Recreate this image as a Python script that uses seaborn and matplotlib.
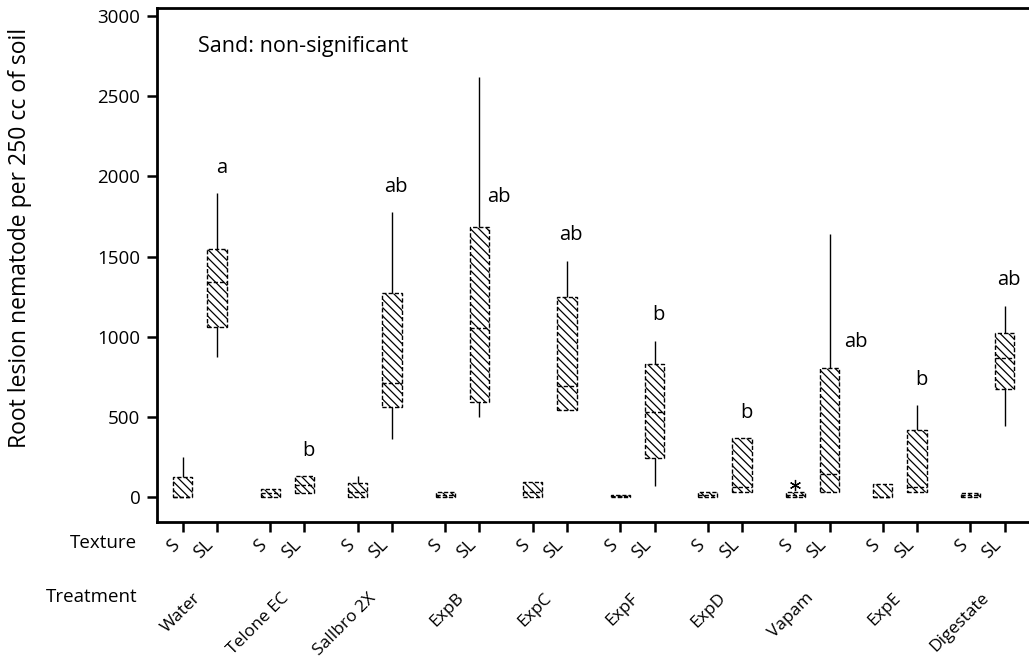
import numpy as np
import pandas as pd
import matplotlib
matplotlib.use("Agg")
import matplotlib.pyplot as plt
import seaborn as sns

# ---- data -------------------------------------------------------------
treatments = ["Water", "Telone EC", "Sallbro 2X", "ExpB", "ExpC",
              "ExpF", "ExpD", "Vapam", "ExpE", "Digestate"]
textures = ["S", "SL"]

# five-number summaries for sand (S)
s_min = [0, 0, 0, 0, 0, 0, 0, 0, 0, 0]
s_q1 = [0, 0, 0, 0, 0, 0, 0, 0, 0, 0]
s_med = [0, 25, 30, 15, 30, 5, 12, 12, 0, 12]
s_q3 = [125, 50, 87, 31, 94, 12, 31, 31, 81, 25]
s_max = [250, 50, 131, 31, 94, 12, 31, 31, 81, 25]

# five-number summaries for sandy loam (SL)
sl_min = [875, 25, 363, 500, 544, 69, 31, 31, 31, 444]
sl_q1 = [1063, 25, 563, 594, 544, 244, 31, 31, 31, 675]
sl_med = [1344, 75, 713, 1056, 694, 531, 62, 144, 62, 869]
sl_q3 = [1544, 131, 1275, 1681, 1250, 831, 369, 806, 419, 1025]
sl_max = [1894, 131, 1775, 2619, 1475, 975, 369, 1638, 575, 1194]

# outlier in sand under Vapam
vapam_s_outlier = [75]

# mean separation letters for sandy loam
sl_letters = ["a", "b", "ab", "ab", "ab", "b", "b", "ab", "b", "ab"]

yticks = [0, 500, 1000, 1500, 2000, 2500, 3000]

# ---- long table built from the summaries -------------------------------
rows = []
for i, trt in enumerate(treatments):
    for tex, stats in (("S", (s_min, s_q1, s_med, s_q3, s_max)),
                       ("SL", (sl_min, sl_q1, sl_med, sl_q3, sl_max))):
        for arr in stats:
            rows.append({"Treatment": trt, "Texture": tex, "Count": arr[i]})
df = pd.DataFrame(rows)

# ---- style ------------------------------------------------------------
sns.set_style("white")
plt.rcParams["font.family"] = ["Open Sans", "DejaVu Sans"]
plt.rcParams["hatch.linewidth"] = 0.9
plt.rcParams["hatch.color"] = "black"
for key in ("text.color", "xtick.color", "ytick.color", "axes.labelcolor"):
    plt.rcParams[key] = "black"

fig = plt.figure(figsize=(10.29, 6.63), dpi=100)
L, R, T, B = 157, 1032, 8, 522
W, H = 1029, 663
ax = fig.add_axes([L / W, 1 - B / H, (R - L) / W, (B - T) / H])

box_width = 0.78
dash = (0, (3, 1.5))
sns.boxplot(data=df, x="Treatment", y="Count", hue="Texture",
            order=treatments, hue_order=textures,
            palette={"S": "white", "SL": "white"},
            width=box_width, gap=0.44, whis=(0, 100), showcaps=False,
            linecolor="black", linewidth=1.0, legend=False, ax=ax,
            boxprops=dict(linestyle=dash),
            medianprops=dict(linestyle=dash, linewidth=1.0),
            whiskerprops=dict(linestyle="-", linewidth=1.0))

for patch in ax.patches:
    patch.set_hatch("\\\\\\\\")
    patch.set_edgecolor("black")

offset = box_width / 4
s_pos = [i - offset for i in range(len(treatments))]
sl_pos = [i + offset for i in range(len(treatments))]

# outlier marker
vi = treatments.index("Vapam")
ax.plot([s_pos[vi]] * len(vapam_s_outlier), vapam_s_outlier,
        linestyle="none", marker=(6, 2, 0), markersize=8,
        markeredgewidth=0.9, color="black")

# letters above the SL boxes (tall whiskers get the letter beside them)
for i, letter in enumerate(sl_letters):
    if treatments[i] == "ExpB":
        x, y = sl_pos[i] + 0.22, sl_q3[i] + 130
    elif treatments[i] == "Vapam":
        x, y = sl_pos[i] + 0.30, sl_q3[i] + 100
    else:
        x, y = sl_pos[i] + 0.05, sl_max[i] + 95
    ax.text(x, y, letter, ha="center", va="bottom", fontsize=14.5)

ax.text(0.047, 0.925, "Sand: non-significant", transform=ax.transAxes,
        ha="left", va="center", fontsize=15.5)

# ---- axes ---------------------------------------------------------------
ax.set_xlim(-0.49, (R - 200) / 87.5)
ax.set_ylim(-156, 3050)
ax.set_yticks(yticks)
ax.set_yticklabels([str(v) for v in yticks], fontsize=13.5)

ticks = [p for pair in zip(s_pos, sl_pos) for p in pair]
ax.set_xticks(ticks)
ax.set_xticklabels(textures * len(treatments), rotation=45, ha="right",
                   fontsize=13)
ax.set_xlabel("")
ax.set_ylabel("")

ax.tick_params(axis="both", direction="out", length=7, width=1.8,
               color="black", bottom=True, left=True)
ax.tick_params(axis="x", pad=3)
ax.tick_params(axis="y", pad=5)

for side in ("left", "bottom", "top"):
    ax.spines[side].set_visible(True)
    ax.spines[side].set_linewidth(2.0)
    ax.spines[side].set_color("black")
ax.spines["right"].set_visible(False)

# treatment names under the texture row
for i, trt in enumerate(treatments):
    ax.text(i + 0.05, (B - 590) / (B - T), trt,
            transform=ax.get_xaxis_transform(), rotation=45,
            ha="right", va="top", fontsize=12.5)

fig.text(137 / W, 1 - 543 / H, "Texture", ha="right", va="center", fontsize=13.5)
fig.text(137 / W, 1 - 597 / H, "Treatment", ha="right", va="center", fontsize=13.5)
fig.text(20 / W, 1 - 238 / H, "Root lesion nematode per 250 cc of soil",
         rotation=90, ha="center", va="center", fontsize=16.5)

fig.savefig("out.png", dpi=100)
